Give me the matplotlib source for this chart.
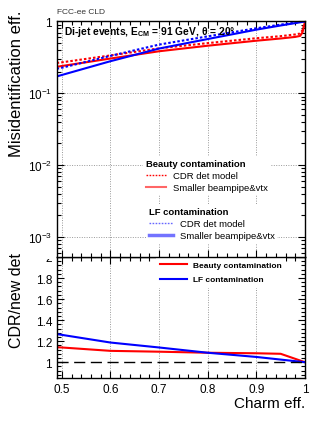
import numpy as np
import matplotlib
matplotlib.use("Agg")
import matplotlib.pyplot as plt
from matplotlib.lines import Line2D
from matplotlib.patches import Rectangle
from matplotlib.ticker import FixedLocator, FixedFormatter, MultipleLocator, LogLocator, NullFormatter

plt.rcParams['font.family'] = ['Liberation Sans', 'DejaVu Sans']
plt.rcParams['mathtext.fontset'] = 'custom'
plt.rcParams['mathtext.rm'] = 'Liberation Sans'
plt.rcParams['mathtext.it'] = 'Liberation Sans:italic'
plt.rcParams['mathtext.bf'] = 'Liberation Sans:bold'

# charm efficiency points (upper panel)
eff = [0.48, 0.5, 0.6, 0.7, 0.8, 0.9, 0.95, 0.98, 0.99, 0.995, 1.0]
# misid eff., beauty contamination
b_cdr = [0.26, 0.27, 0.337, 0.423, 0.50, 0.585, 0.625, 0.66, 0.68, 0.76, 1.0]
b_new = [0.228, 0.24, 0.305, 0.385, 0.46, 0.54, 0.58, 0.61, 0.63, 0.71, 1.0]
# misid eff., light flavour contamination
lf_cdr = [0.213, 0.227, 0.332, 0.477, 0.621, 0.805, 0.905, 0.965, 0.985, 0.993, 1.0]
lf_new = [0.165, 0.18, 0.28, 0.42, 0.57, 0.77, 0.88, 0.95, 0.975, 0.988, 1.0]

# ratio panel
eff_r = [0.48, 0.5, 0.6, 0.7, 0.8, 0.9, 0.95, 1.0]
ratio_b = [1.145, 1.14, 1.108, 1.10, 1.09, 1.085, 1.08, 1.0]
ratio_lf = [1.275, 1.26, 1.187, 1.14, 1.09, 1.05, 1.025, 1.0]

RED = '#ff0000'
BLUE = '#0000ff'

fig = plt.figure(figsize=(3.32, 4.31), dpi=100)
W, H = 332.0, 431.0
L, R = 57 / W, 305 / W
ax2 = fig.add_axes([L, 1 - 379 / H, R - L, (379 - 258) / H])
ax1 = fig.add_axes([L, 1 - 258 / H, R - L, (258 - 22) / H])

def style(ax):
    ax.tick_params(which='both', direction='in', top=True, right=True, width=0.8,
                   labelsize=8.5, colors='black')
    ax.tick_params(which='major', length=5)
    ax.tick_params(which='minor', length=3)
    for s in ax.spines.values():
        s.set_linewidth(1.0)

# ---------- upper panel
ax1.plot(eff, b_cdr, color=RED, lw=1.5, ls=(0, (1.2, 1.0)))
ax1.plot(eff, b_new, color=RED, lw=1.5)
ax1.plot(eff, lf_cdr, color=BLUE, lw=1.5, ls=(0, (1.2, 1.0)))
ax1.plot(eff, lf_new, color=BLUE, lw=1.5)
ax1.set_yscale('log')
ax1.set_xlim(0.49, 1.0)
ax1.set_ylim(5.25e-4, 1.016)
ax1.yaxis.set_major_locator(FixedLocator([1e-3, 1e-2, 1e-1, 1]))
ax1.yaxis.set_major_formatter(FixedFormatter([r'$10^{-3}$', r'$10^{-2}$', r'$10^{-1}$', '1']))
ax1.yaxis.set_minor_locator(LogLocator(base=10, subs=np.arange(2, 10)))
ax1.yaxis.set_minor_formatter(NullFormatter())
ax1.xaxis.set_major_locator(MultipleLocator(0.1))
ax1.xaxis.set_minor_locator(MultipleLocator(0.02))
ax1.tick_params(labelbottom=False)
style(ax1)
ax1.grid(True, which='major', color='#999999', ls=(0, (1, 1.5)), lw=0.7)
ax1.set_ylabel('Misidentification eff.', fontsize=12, loc='top')
ax1.yaxis.set_label_coords(-0.135, 1.05)

ax1.text(0.028, 0.958, r'Di-jet events, E$_{\mathbf{CM}}$ = 91 GeV, θ = 20°',
         transform=ax1.transAxes, fontsize=7.4, fontweight='bold', va='center', ha='left')
fig.text(L, 1 - 13 / H, 'FCC-ee CLD', fontsize=6, color='#333333', va='center', ha='left')

hb = [Line2D([], [], color=RED, lw=1.0, ls=(0, (1.2, 1.0))),
      Line2D([], [], color=RED, lw=1.5, alpha=0.6)]
leg1 = ax1.legend(hb, ['CDR det model', 'Smaller beampipe&vtx'], title='Beauty contamination',
                  loc='upper left', bbox_to_anchor=((143 - 57) / 248, (258 - 157) / 236),
                  borderaxespad=0, borderpad=0.3, fontsize=6.8, title_fontproperties={'weight': 'bold', 'size': 6.8},
                  alignment='left', handlelength=2.1, handletextpad=0.75, labelspacing=0.35,
                  frameon=True, fancybox=False, edgecolor='none', facecolor='white', framealpha=1)
ax1.add_artist(leg1)
hl = [Line2D([], [], color=BLUE, lw=1.0, ls=(0, (1.2, 1.0)), alpha=0.6),
      Line2D([], [], color=BLUE, lw=2.5, alpha=0.55)]
ax1.legend(hl, ['CDR det model', 'Smaller beampipe&vtx'], title='LF contamination',
           loc='upper left', bbox_to_anchor=((146 - 57) / 248, (258 - 205) / 236),
           borderaxespad=0, borderpad=0.3, fontsize=6.8, title_fontproperties={'weight': 'bold', 'size': 6.8},
           alignment='left', handlelength=2.6, handletextpad=0.65, labelspacing=0.35,
           frameon=True, fancybox=False, edgecolor='none', facecolor='white', framealpha=1)

# ---------- ratio panel
ax2.plot(eff_r, ratio_b, color=RED, lw=1.5, label='Beauty contamination')
ax2.plot(eff_r, ratio_lf, color=BLUE, lw=1.5, label='LF contamination')
ax2.axhline(1.0, color='black', lw=1.0, ls=(0, (8, 4)))
ax2.set_xlim(0.49, 1.0)
ax2.set_ylim(0.85, 2.0)
ax2.xaxis.set_minor_locator(MultipleLocator(0.02))
ax2.yaxis.set_major_locator(FixedLocator([1.0, 1.2, 1.4, 1.6, 1.8, 2.0]))
ax2.yaxis.set_major_formatter(FixedFormatter(['1', '1.2', '1.4', '1.6', '1.8', '2']))
ax2.yaxis.set_minor_locator(MultipleLocator(0.04))
ax2.set_xticks([0.5, 0.6, 0.7, 0.8, 0.9, 1.0])
ax2.set_xticklabels(['0.5', '0.6', '0.7', '0.8', '0.9', '1'])
style(ax2)
ax2.grid(True, which='major', axis='x', color='#999999', ls=(0, (1, 1.5)), lw=0.7)
ax2.set_ylabel('CDR/new det', fontsize=11.5, loc='top')
ax2.yaxis.set_label_coords(-0.135, 1.04)
ax2.set_xlabel('Charm eff.', fontsize=11, loc='right')
ax2.xaxis.set_label_coords(1.0, -0.21)
ax2.xaxis.label.set_va('center')
ax2.legend(loc='upper left', bbox_to_anchor=((156 - 57) / 248, 1.0), borderaxespad=0,
           borderpad=0.5, prop={'weight': 'bold', 'size': 6.0}, handlelength=3.2,
           handletextpad=0.7, labelspacing=0.8, frameon=True, fancybox=False,
           edgecolor='none', facecolor='white', framealpha=1)

# hide upper half of the "2" label, as in the source
fig.add_artist(Rectangle((30 / W, 1 - 259.5 / H), 26 / W, 12 / H, transform=fig.transFigure,
                         facecolor='white', edgecolor='none', zorder=10))

fig.savefig('out.png', dpi=100)
